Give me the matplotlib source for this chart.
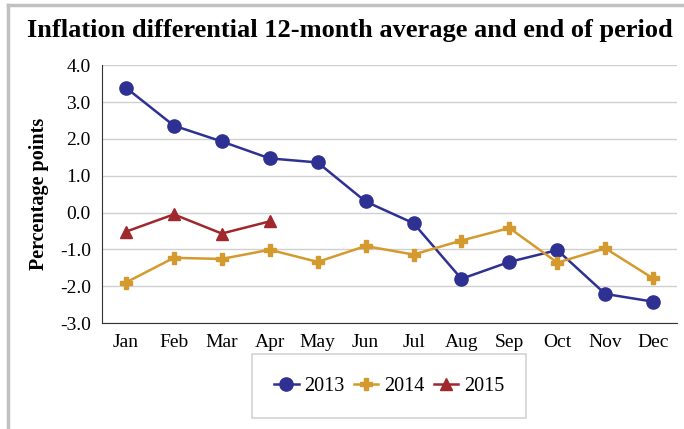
import matplotlib.pyplot as plt
from matplotlib.lines import Line2D

months = ['Jan', 'Feb', 'Mar', 'Apr', 'May', 'Jun', 'Jul', 'Aug', 'Sep', 'Oct', 'Nov', 'Dec']
y2013 = [3.39, 2.36, 1.93, 1.47, 1.36, 0.30, -0.29, -1.80, -1.34, -1.02, -2.21, -2.42]
y2014 = [-1.90, -1.23, -1.26, -1.01, -1.34, -0.91, -1.14, -0.76, -0.42, -1.36, -0.97, -1.79]
y2015 = [-0.52, -0.05, -0.57, -0.24]

plt.rcParams['font.family'] = ['Liberation Serif', 'DejaVu Serif']

fig = plt.figure(figsize=(6.84, 4.29), dpi=100)
ax = fig.add_axes([0.149, 0.247, 0.841, 0.601])

x = list(range(len(months)))
ax.plot(x, y2013, color='#2e3192', lw=1.8, marker='o', ms=9.5, label='2013')
ax.plot(x, y2014, color='#d49a2e', lw=1.8, marker='P', ms=8, label='2014')
ax.plot(x[:len(y2015)], y2015, color='#a0282c', lw=1.8, marker='^', ms=8, label='2015')

ax.set_xlim(-0.5, 11.5)
ax.set_ylim(-3, 4)
ax.set_yticks(range(-3, 5))
ax.set_yticklabels(['%.1f' % v for v in range(-3, 5)])
ax.set_xticks(x)
ax.set_xticklabels(months)
ax.tick_params(length=0, labelsize=14, pad=8)
ax.grid(axis='y', color='#d0d0d0', lw=1)
ax.set_axisbelow(True)
for s in ['top', 'right']:
    ax.spines[s].set_visible(False)
ax.spines['left'].set_color('#333333')
ax.spines['bottom'].set_color('#333333')
ax.set_ylabel('Percentage points', fontsize=14.5, fontweight='bold', labelpad=8)

fig.suptitle('Inflation differential 12-month average and end of period',
             fontsize=19, fontweight='bold', x=0.511, y=0.955)

leg = fig.legend(loc='center', bbox_to_anchor=(0.569, 0.1), ncol=3, fontsize=14.5,
                 frameon=True, fancybox=False, edgecolor='#c8c8c8',
                 handlelength=1.2, handletextpad=0.3, columnspacing=0.45,
                 borderpad=1.1, borderaxespad=0)
leg.get_frame().set_linewidth(1.2)

# outer border
fig.add_artist(Line2D([8 / 684, 1], [1 - 5 / 429, 1 - 5 / 429], color='#c0c0c0', lw=2.5))
fig.add_artist(Line2D([8 / 684, 8 / 684], [0, 1 - 5 / 429], color='#c0c0c0', lw=2.5))

fig.savefig('out.png', dpi=100)
